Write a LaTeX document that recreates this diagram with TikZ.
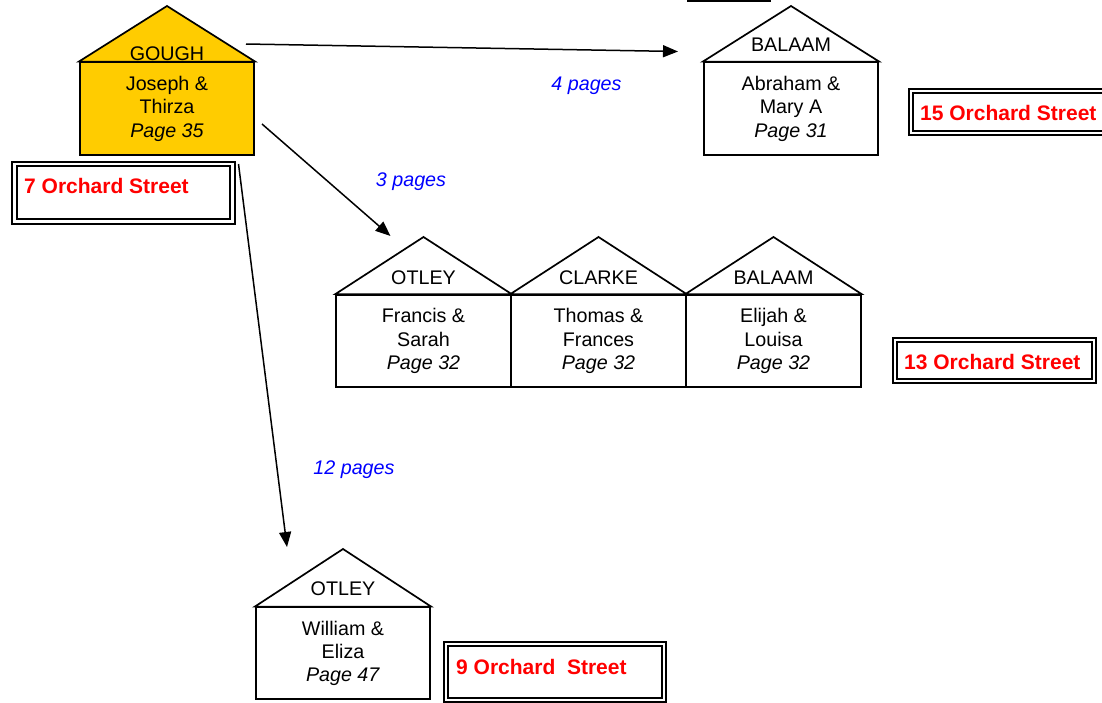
\documentclass[tikz,border=0pt]{standalone}
\usepackage{fontspec}
\setmainfont{Liberation Sans}
\usetikzlibrary{arrows.meta}
\definecolor{gold}{HTML}{FFCC00}
\definecolor{addrred}{HTML}{FF0000}
\definecolor{pageblue}{HTML}{0000FF}
\tikzset{
  housebody/.style={draw=black, line width=1.8pt, minimum width=174.5, inner sep=0pt,
    align=center, font=\fontsize{19.7}{23.3}\selectfont},
  roof/.style={draw=black, line width=1.7pt, line join=miter},
  surname/.style={font=\fontsize{19.7}{23.3}\selectfont, inner sep=0pt},
  addrbox/.style={draw=black, double=white, line width=2pt, double distance=2.6pt, inner sep=0pt},
  addrtext/.style={font=\fontsize{21}{24}\selectfont\bfseries, text=addrred, inner sep=0pt, anchor=west},
  pagelbl/.style={font=\fontsize{19.7}{23}\selectfont\itshape, text=pageblue, inner sep=0pt},
  link/.style={draw=black, line width=1.5pt, -{Triangle[length=15pt,width=12pt]}}
}
\newcommand{\famhouse}[9]{%
  \node[housebody, fill=#6, minimum height={#5-#4}] (#1) at (#2,{(#4+#5)/2}) {#9};
  \draw[roof, fill=#6] (#1.north west) -- (#2,#3) -- (#1.north east) -- cycle;
  \node[surname] (#1-name) at (#2,#8) {#7};
}
\begin{document}
\begin{tikzpicture}[x=1pt,y=-1pt]
\useasboundingbox[fill=white] (0,0) rectangle (1102,702);

% partial underline at top edge
\draw[line width=2pt] (687,0.5) -- (771,0.5);

% houses
\famhouse{gough}{167}{6}{62.5}{155.3}{gold}{GOUGH}{53.5}{Joseph \&\\Thirza\\\textit{Page 35}}
\famhouse{balaamA}{791}{6}{62.5}{155.3}{white}{BALAAM}{45}{Abraham \&\\Mary A\\\textit{Page 31}}
\famhouse{otleyA}{423.5}{237}{295}{387}{white}{OTLEY}{278}{Francis \&\\Sarah\\\textit{Page 32}}
\famhouse{clarke}{598.5}{237}{295}{387}{white}{CLARKE}{278}{Thomas \&\\Frances\\\textit{Page 32}}
\famhouse{balaamB}{773.5}{237}{295}{387}{white}{BALAAM}{278}{Elijah \&\\Louisa\\\textit{Page 32}}
\famhouse{otleyB}{343}{549}{607.5}{699}{white}{OTLEY}{589}{William \&\\Eliza\\\textit{Page 47}}

% address boxes
\node[addrbox, minimum width=217.7, minimum height=57.5] (st7) at (123.6,192.7) {};
\node[addrtext] (st7-t) at (24,186) {7 Orchard Street};
\node[addrbox, minimum width=199, minimum height=42] (st15) at (1010.5,112) {};
\node[addrtext] (st15-t) at (920,113) {15 Orchard Street};
\node[addrbox, minimum width=199, minimum height=41] (st13) at (994.5,360.5) {};
\node[addrtext] (st13-t) at (904,362) {13 Orchard Street};
\node[addrbox, minimum width=218, minimum height=56] (st9) at (555,672) {};
\node[addrtext] (st9-t) at (456,666.5) {9 Orchard\ \ Street};

% connectors
\coordinate (a1s) at (246,44);
\coordinate (a1e) at (678,51.5);
\coordinate (a2s) at (262,124);
\coordinate (a2e) at (390.5,236);
\coordinate (a3s) at (238.5,164);
\coordinate (a3e) at (287,547);
\draw[link] (a1s) -- (a1e);
\draw[link] (a2s) -- (a2e);
\draw[link] (a3s) -- (a3e);

% labels
\node[pagelbl] (l4) at (586.5,85.5) {4 pages};
\node[pagelbl] (l3) at (411,182) {3 pages};
\node[pagelbl] (l12) at (354,469.5) {12 pages};
\end{tikzpicture}
\end{document}
